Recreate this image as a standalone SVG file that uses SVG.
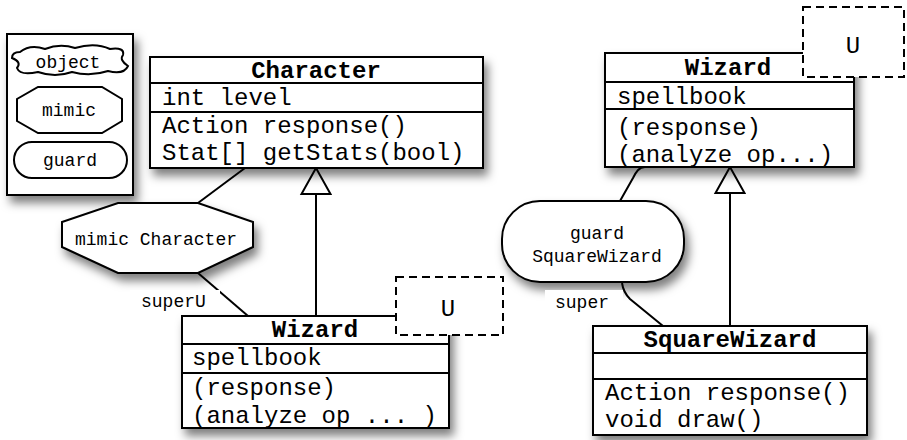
<svg xmlns="http://www.w3.org/2000/svg" width="907" height="440" viewBox="0 0 907 440">
<style>
.box{fill:#fff;stroke:#000;stroke-width:2}
.sep{stroke:#000;stroke-width:2}
.t{font-family:"Liberation Mono","DejaVu Sans Mono",monospace;font-size:24px;fill:#000}
.h{font-weight:bold;text-anchor:middle}
.s{font-family:"Liberation Mono","DejaVu Sans Mono",monospace;font-size:18px;fill:#000}
.c{text-anchor:middle}
.ln{fill:none;stroke:#000;stroke-width:2}
.dash{fill:#fff;stroke:#000;stroke-width:2;stroke-dasharray:8,5}
</style>
<defs>
<filter id="sh" x="-20%" y="-20%" width="145%" height="160%">
<feDropShadow dx="4" dy="7" stdDeviation="5" flood-color="#000" flood-opacity="0.5"/>
</filter>
</defs>
<rect width="907" height="440" fill="#fff"/>

<g id="connectors">
<line class="ln" x1="245" y1="168" x2="198" y2="203"/>
<line class="ln" x1="198" y1="273" x2="248" y2="316"/>
<line class="ln" x1="316" y1="194" x2="316" y2="316"/>
<polygon points="316,168 301.5,194 330.5,194" fill="#fff" stroke="#000" stroke-width="2"/>
<line class="ln" x1="730" y1="193" x2="730" y2="326"/>
<polygon points="730,167 715.5,193 744.5,193" fill="#fff" stroke="#000" stroke-width="2"/>
<path class="ln" d="M645,167 C639,167 636,172 633,178 L620,201"/>
<path class="ln" d="M622,283 C623,290 626,295 630,299 L663,326"/>
</g>

<g id="legend">
<rect class="box" x="7" y="34" width="126" height="161" filter="url(#sh)"/>
<path class="box" d="M20,52 Q30,44 45,49 Q60,43 75,48 Q95,42 110,49 Q125,47 123,55 Q119,60 128,66 Q124,75 108,71 Q90,77 72,72 Q55,78 38,72 Q20,76 17,68 Q22,62 12,58 Q12,52 20,52 Z"/>
<text class="s c" x="68" y="68">object</text>
<polygon class="box" points="38,87 102,87 122,99 122,121 102,133 38,133 17,121 17,99"/>
<text class="s c" x="69" y="116">mimic</text>
<rect class="box" x="14" y="142" width="113" height="36" rx="18"/>
<text class="s c" x="70" y="166">guard</text>
</g>

<g id="character">
<rect class="box" x="150" y="57" width="333" height="111" filter="url(#sh)"/>
<line class="sep" x1="150" y1="83" x2="483" y2="83"/>
<line class="sep" x1="150" y1="112" x2="483" y2="112"/>
<text class="t h" x="316" y="78">Character</text>
<text class="t" x="162" y="105">int level</text>
<text class="t" x="162" y="133">Action response()</text>
<text class="t" x="162" y="160">Stat[] getStats(bool)</text>
</g>

<g id="mimic-character">
<polygon class="box" points="118,203 198,203 253,222 253,247 198,273 118,273 62,247 62,222" filter="url(#sh)"/>
<text class="s c" x="156" y="245">mimic Character</text>
</g>

<g id="label-superU">
<rect x="130" y="290" width="90" height="22" fill="#fff"/>
<text class="s" x="141" y="307">superU</text>
</g>

<g id="wizard-lower">
<rect class="box" x="182" y="316" width="267" height="112" filter="url(#sh)"/>
<line class="sep" x1="182" y1="344" x2="449" y2="344"/>
<line class="sep" x1="182" y1="373" x2="449" y2="373"/>
<text class="t h" x="315" y="337">Wizard</text>
<text class="t" x="192" y="365">spellbook</text>
<text class="t" x="192" y="395">(response)</text>
<text class="t" x="192" y="423">(analyze op ... )</text>
</g>

<g id="u-lower">
<rect class="dash" x="396" y="277" width="107" height="58"/>
<text class="t c" x="448" y="316">U</text>
</g>

<g id="guard-squarewizard">
<rect class="box" x="502" y="201" width="182" height="81" rx="38" filter="url(#sh)"/>
<text class="s c" x="597" y="239">guard</text>
<text class="s c" x="597" y="262">SquareWizard</text>
</g>

<g id="label-super">
<rect x="545" y="290" width="78" height="23" fill="#fff"/>
<text class="s" x="555" y="308">super</text>
</g>

<g id="wizard-upper">
<rect class="box" x="605" y="53" width="249" height="114" filter="url(#sh)"/>
<line class="sep" x1="605" y1="82" x2="854" y2="82"/>
<line class="sep" x1="605" y1="109" x2="854" y2="109"/>
<text class="t h" x="728" y="75">Wizard</text>
<text class="t" x="617" y="104">spellbook</text>
<text class="t" x="617" y="135">(response)</text>
<text class="t" x="617" y="162">(analyze op...)</text>
</g>

<g id="u-upper">
<rect class="dash" x="803" y="7" width="101" height="70"/>
<text class="t c" x="853" y="53">U</text>
</g>

<g id="squarewizard">
<rect class="box" x="593" y="326" width="274" height="109" filter="url(#sh)"/>
<line class="sep" x1="593" y1="353" x2="867" y2="353"/>
<line class="sep" x1="593" y1="379" x2="867" y2="379"/>
<text class="t h" x="730" y="347">SquareWizard</text>
<text class="t" x="605" y="400">Action response()</text>
<text class="t" x="605" y="427">void draw()</text>
</g>
</svg>
